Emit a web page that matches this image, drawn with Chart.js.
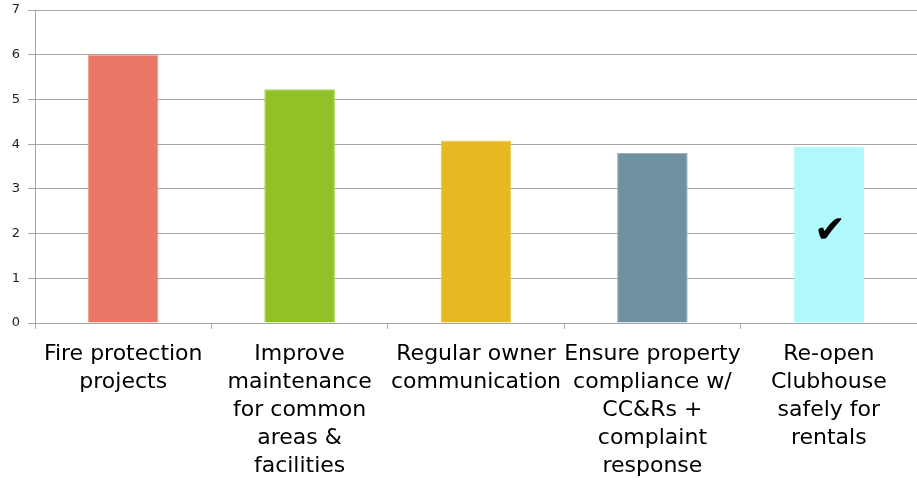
<!DOCTYPE html>
<html>
<head>
<meta charset="utf-8">
<script src="https://cdn.jsdelivr.net/npm/chart.js@4"></script>
<style>
  html, body { margin: 0; padding: 0; background: #fff; }
  #wrap { width: 917px; height: 482px; }
</style>
</head>
<body>
<div id="wrap"><canvas id="myChart" width="917" height="482"></canvas></div>
<script>
    "use strict";

    const categories = [
        ["Fire protection", "projects"],
        ["Improve", "maintenance", "for common", "areas &", "facilities"],
        ["Regular owner", "communication"],
        ["Ensure property", "compliance w/", "CC&Rs +", "complaint", "response"],
        ["Re-open", "Clubhouse", "safely for", "rentals"]
    ];
    const scores = [6.0, 5.23, 4.08, 3.8, 3.94];
    const barColors = ["#EB7867", "#92C127", "#E6B821", "#6F909F", "#B0F8FB"];
    const barEdges = ["#F2A396", "#A9D24E", "#EFC94A", "#9AB0BA", "#B0F8FB"];
    const yTicks = [0, 1, 2, 3, 4, 5, 6, 7];
    const checkedIndex = 4;   // item marked as done
    const checkLevel = 2;     // where the check mark sits on the value axis

    /* check mark drawn over the finished item */
    const checkMark = {
        id: 'checkMark',
        afterDatasetsDraw(chart) {
            const ctx = chart.ctx;
            const x = chart.scales.x.getPixelForValue(checkedIndex);
            const y = chart.scales.y.getPixelForValue(checkLevel);
            ctx.save();
            ctx.fillStyle = '#000';
            ctx.font = '38px "DejaVu Sans"';
            ctx.textAlign = 'center';
            ctx.textBaseline = 'middle';
            ctx.fillText('\u2714', x + 1, y - 1);
            ctx.restore();
        }
    };

    var ctx = document.getElementById('myChart').getContext('2d');
    var chart = new Chart(ctx, {
        type: 'bar',
        data: {
            labels: categories,
            datasets: [{
                data: scores,
                backgroundColor: barColors,
                borderColor: barEdges,
                borderWidth: 1,
                barPercentage: 0.4,
                categoryPercentage: 1
            }]
        },
        options: {
            responsive: false,
            animation: false,
            layout: { padding: { top: 10, right: 0, left: 0, bottom: 0 } },
            plugins: {
                legend: { display: false },
                tooltip: { enabled: false }
            },
            scales: {
                x: {
                    grid: {
                        drawOnChartArea: false,
                        tickLength: 6,
                        color: '#b0b0b0'
                    },
                    border: { color: '#a6a6a6' },
                    ticks: {
                        color: '#000',
                        font: { family: '"DejaVu Sans"', size: 22, lineHeight: '28px' },
                        padding: 11,
                        maxRotation: 0,
                        autoSkip: false
                    },
                    afterFit(scale) {
                        scale.height = 159;
                        scale.paddingLeft = 0;
                        scale.paddingRight = 0;
                    }
                },
                y: {
                    min: 0,
                    max: 7,
                    afterBuildTicks(scale) {
                        scale.ticks = yTicks.map(v => ({ value: v }));
                    },
                    grid: {
                        color: '#a6a6a6',
                        tickLength: 7
                    },
                    border: { color: '#a6a6a6' },
                    ticks: {
                        color: '#222',
                        font: { family: '"DejaVu Sans"', size: 13 },
                        padding: 8
                    },
                    afterFit(scale) {
                        scale.width = 35;
                        scale.paddingTop = 0;
                        scale.paddingBottom = 0;
                    }
                }
            }
        },
        plugins: [checkMark]
    });
</script>
</body>
</html>
